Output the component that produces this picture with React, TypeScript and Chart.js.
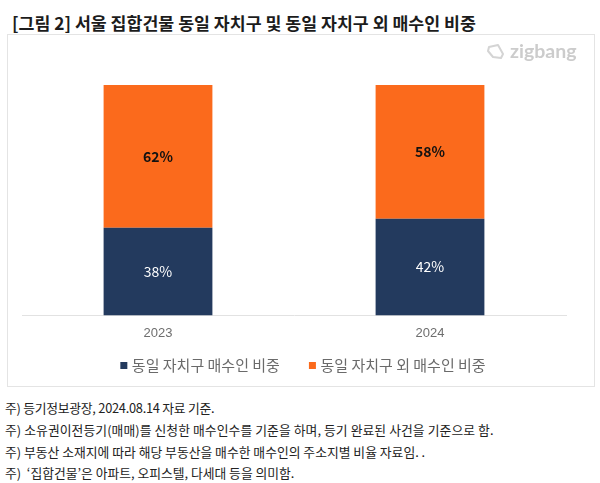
import React, { useEffect, useRef } from "react";
import { Chart, registerables } from "chart.js";

Chart.register(...registerables);

const categories = ["2023", "2024"];
const sameDistrict = [38, 42];
const otherDistrict = [62, 58];
const seriesNames = ["동일 자치구 매수인 비중", "동일 자치구 외 매수인 비중"];
const titleText = "[그림 2] 서울 집합건물 동일 자치구 및 동일 자치구 외 매수인 비중";
const notes = [
  "주) 등기정보광장, 2024.08.14 자료 기준.",
  "주) 소유권이전등기(매매)를 신청한 매수인수를 기준을 하며, 등기 완료된 사건을 기준으로 함.",
  "주) 부동산 소재지에 따라 해당 부동산을 매수한 매수인의 주소지별 비율 자료임. .",
  "주)  ‘집합건물’은 아파트, 오피스텔, 다세대 등을 의미함.",
];
const noteTops = [399, 421, 443, 464];
const noteSpacing = [-0.25, 0.08, 0.01, 0];

const FONT = '"Noto Sans CJK KR", "Noto Sans", sans-serif';

const valueLabels = {
  id: "valueLabels",
  afterLayout(chart: any) {
    chart.legend.left += 10.5;
    chart.legend.right += 10.5;
    chart.legend.top -= 17;
    chart.legend.bottom -= 17;
  },
  afterDatasetsDraw(chart: any) {
    const { ctx } = chart;
    chart.data.datasets.forEach((ds: any, i: number) => {
      chart.getDatasetMeta(i).data.forEach((bar: any, j: number) => {
        ctx.save();
        ctx.textAlign = "center";
        ctx.textBaseline = "middle";
        ctx.fillStyle = i === 0 ? "#ffffff" : "#111111";
        ctx.font = `${i === 0 ? 400 : 700} 14px ${FONT}`;
        ctx.fillText(ds.data[j] + "%", bar.x, (bar.y + bar.base) / 2);
        ctx.restore();
      });
    });
  },
};

export default function App() {
  const ref = useRef<HTMLCanvasElement>(null);
  useEffect(() => {
    const chart = new Chart(ref.current!, {
      type: "bar",
      data: {
        labels: categories,
        datasets: [
          { label: seriesNames[0], data: sameDistrict, backgroundColor: "#233a5e" },
          { label: seriesNames[1], data: otherDistrict, backgroundColor: "#fb6a1c" },
        ],
      },
      options: {
        responsive: false,
        animation: false,
        layout: { padding: { left: 14, right: 28, top: 50, bottom: -14 } },
        datasets: { bar: { categoryPercentage: 1, barPercentage: 0.4 } },
        plugins: {
          title: { display: false },
          tooltip: { enabled: false },
          legend: {
            display: true,
            position: "bottom",
            labels: {
              usePointStyle: true,
              pointStyle: "rect",
              boxWidth: 1,
              boxHeight: 7,
              padding: 32,
              color: "#6a6a6a",
              font: { family: FONT, size: 15 },
            },
          },
        },
        scales: {
          x: {
            stacked: true,
            grid: { display: false },
            border: { color: "#e2e2e2" },
            ticks: { color: "#6e6e6e", padding: 2, font: { family: "Liberation Sans", size: 13 } },
          },
          y: { stacked: true, min: 0, max: 100, display: false },
        },
      },
      plugins: [valueLabels],
    } as any);
    return () => chart.destroy();
  }, []);

  return (
    <div style={{ position: "absolute", left: 0, top: 0, width: 600, height: 483, background: "#fff", overflow: "hidden", fontFamily: FONT }}>
      <div style={{ position: "absolute", left: 12, top: 12, fontSize: 17.3, fontWeight: 700, color: "#1c1c1c", whiteSpace: "nowrap", lineHeight: "22px" }}>{titleText}</div>
      <div style={{ position: "absolute", left: 7, top: 34, width: 586, height: 351, border: "1px solid #e4e4e4" }}>
        <canvas ref={ref} width={586} height={351} style={{ display: "block" }} />
        <svg style={{ position: "absolute", left: 477, top: 7 }} width="22" height="20" viewBox="0 0 22 20">
          <path d="M4 5 L13 3 L18 12 L16 16 L8 15 L3 9 Z" fill="none" stroke="#d4d4d4" strokeWidth="2" strokeLinejoin="round" />
        </svg>
        <div style={{ position: "absolute", left: 502, top: 4, fontSize: 19.5, lineHeight: "24px", fontWeight: 700, color: "#cccccc", fontFamily: "Lato, sans-serif" }}>zigbang</div>
      </div>
      {notes.map((n, i) => (
        <div key={i} style={{ position: "absolute", left: 5, top: noteTops[i], fontSize: 12.8, letterSpacing: noteSpacing[i], color: "#222", whiteSpace: "pre", lineHeight: "18px", fontFamily: FONT }}>{n}</div>
      ))}
    </div>
  );
}
